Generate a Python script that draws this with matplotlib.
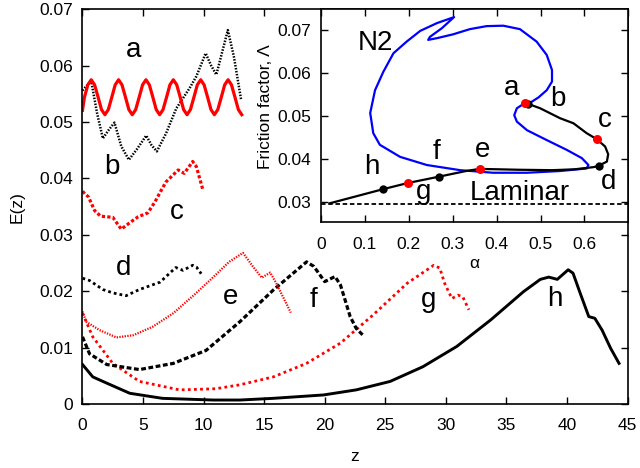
import matplotlib.pyplot as plt

plt.rcParams['font.family'] = ['Liberation Sans', 'DejaVu Sans']

# ---- main panel: E(z) for the states a..h ----
z_a = [0.00, 0.16, 0.44, 0.72, 1.00, 1.29, 1.57, 1.85, 2.13, 2.42, 2.70, 2.98,
       3.26, 3.55, 3.83, 4.11, 4.39, 4.68, 4.96, 5.24, 5.52, 5.81, 6.09, 6.37,
       6.65, 6.94, 7.22, 7.50, 7.78, 8.07, 8.35, 8.63, 8.91, 9.20, 9.48, 9.76,
       10.04, 10.33, 10.61, 10.89, 11.17, 11.46, 11.74, 12.02, 12.30, 12.59,
       12.87, 13.15]
E_a = [0.0521, 0.0544, 0.0566, 0.0575,
       0.0566, 0.0544, 0.0522, 0.0513, 0.0522, 0.0544, 0.0566, 0.0575,
       0.0566, 0.0544, 0.0522, 0.0513, 0.0522, 0.0544, 0.0566, 0.0575,
       0.0566, 0.0544, 0.0522, 0.0513, 0.0522, 0.0544, 0.0566, 0.0575,
       0.0566, 0.0544, 0.0522, 0.0513, 0.0522, 0.0544, 0.0566, 0.0575,
       0.0566, 0.0544, 0.0522, 0.0513, 0.0522, 0.0544, 0.0566, 0.0575,
       0.0566, 0.0544, 0.0522, 0.0513]

z_b = [0.0, 0.72, 1.2, 1.68, 2.2, 2.64, 3.2, 3.83, 4.5, 5.26, 5.7, 6.14, 6.9,
       7.74, 8.84, 9.4, 10.17, 10.6, 11.05, 12.0, 12.5, 13.1]
E_b = [0.0556, 0.0573, 0.0516, 0.0471, 0.0487, 0.0499, 0.0457, 0.0433, 0.0452,
       0.0476, 0.0459, 0.0448, 0.0480, 0.0524, 0.0560, 0.0581, 0.0622, 0.0601,
       0.0584, 0.0663, 0.0616, 0.0539]

z_c = [0.0, 0.5, 1.0, 1.5, 2.5, 3.2, 4.0, 4.6, 5.4, 6.0, 6.5, 6.9, 7.9, 8.4,
       9.1, 9.4, 9.95]
E_c = [0.0377, 0.0367, 0.0343, 0.0333, 0.0331, 0.0310, 0.0323, 0.0332, 0.0339,
       0.0359, 0.0379, 0.0394, 0.0415, 0.0409, 0.0430, 0.0421, 0.0379]

z_d = [0.0, 0.58, 1.68, 2.5, 3.6, 4.7, 6.4, 7.7, 8.3, 9.1, 9.4, 9.8]
E_d = [0.0223, 0.0219, 0.0203, 0.0197, 0.0192, 0.0203, 0.0216, 0.0242, 0.0237,
       0.0246, 0.0243, 0.0231]

z_e = [0.0, 0.3, 1.4, 2.8, 4.2, 5.8, 7.5, 9.4, 10.8, 12.1, 13.25, 14.1, 14.8,
       15.5, 16.0, 17.2]
E_e = [0.0164, 0.0146, 0.0131, 0.0118, 0.0122, 0.0137, 0.0161, 0.0197, 0.0225,
       0.0252, 0.0268, 0.0243, 0.0224, 0.0233, 0.0214, 0.0162]

z_f = [0.0, 0.58, 2.0, 4.7, 7.5, 10.2, 13.0, 15.75, 18.5, 19.1, 20.0, 20.85,
       21.3, 22.1, 22.6, 23.2]
E_f = [0.0119, 0.0089, 0.0070, 0.0061, 0.0072, 0.0095, 0.0146, 0.0202, 0.0252,
       0.0244, 0.0217, 0.0226, 0.0211, 0.0155, 0.0134, 0.0121]

z_g = [0.0, 0.85, 2.5, 4.7, 8.0, 11.0, 13.0, 15.75, 18.5, 21.3, 24.0, 26.8,
       29.0, 29.5, 29.9, 30.5, 31.0, 31.4, 31.9]
E_g = [0.0161, 0.0119, 0.0072, 0.0040, 0.0025, 0.0027, 0.0034, 0.0048, 0.0072,
       0.0108, 0.0158, 0.0214, 0.0246, 0.0241, 0.0214, 0.0187, 0.0193, 0.0190,
       0.0167]

z_h = [0.0, 0.85, 2.0, 3.9, 6.6, 10.8, 13.0, 15.75, 19.9, 22.6, 25.4, 28.1,
       30.9, 33.7, 36.4, 37.8, 38.5, 39.2, 40.1, 40.5, 41.1, 41.8, 42.3, 42.9,
       43.6, 44.3]
E_h = [0.0070, 0.0048, 0.0037, 0.0019, 0.0010, 0.0007, 0.0007, 0.0010, 0.0016,
       0.0025, 0.0040, 0.0066, 0.0102, 0.0149, 0.0199, 0.0221, 0.0225, 0.0221,
       0.0238, 0.0232, 0.0196, 0.0155, 0.0152, 0.0131, 0.0099, 0.0072]

main_labels = ['a', 'b', 'c', 'd', 'e', 'f', 'g', 'h']
main_label_z = [4.2, 2.4, 7.8, 3.4, 12.2, 19.1, 28.6, 39.0]
main_label_E = [0.0628, 0.0421, 0.0341, 0.0241, 0.0190, 0.0184, 0.0184, 0.0187]

z_ticks = [0, 5, 10, 15, 20, 25, 30, 35, 40, 45]
E_ticks = [0, 0.01, 0.02, 0.03, 0.04, 0.05, 0.06, 0.07]
E_tick_labels = ['0', '0.01', '0.02', '0.03', '0.04', '0.05', '0.06', '0.07']

# ---- inset: friction factor vs alpha ----
alpha_n2 = [0.472, 0.495, 0.514, 0.526, 0.526, 0.514, 0.491, 0.453, 0.415,
            0.377, 0.339, 0.301, 0.264, 0.244, 0.248, 0.275, 0.303, 0.264,
            0.226, 0.195, 0.165, 0.142, 0.123, 0.112, 0.119, 0.134, 0.180,
            0.241, 0.317, 0.392, 0.469, 0.544, 0.605, 0.609, 0.594, 0.560,
            0.514, 0.469, 0.446, 0.440, 0.446, 0.458]
lam_n2 = [0.0528, 0.0543, 0.0560, 0.0580, 0.0607, 0.0642, 0.0673, 0.0702,
          0.0710, 0.0709, 0.0702, 0.0690, 0.0681, 0.0677, 0.0684, 0.0704,
          0.0730, 0.0716, 0.0698, 0.0673, 0.0646, 0.0603, 0.0560, 0.0507,
          0.0460, 0.0433, 0.0405, 0.0386, 0.0374, 0.0368, 0.0368, 0.0372,
          0.0378, 0.0386, 0.0402, 0.0421, 0.0444, 0.0467, 0.0487, 0.0502,
          0.0518, 0.0526]

alpha_branch = [0.020, 0.142, 0.197, 0.269, 0.330, 0.361, 0.450, 0.527, 0.577,
                0.620, 0.632, 0.651, 0.654, 0.647, 0.628, 0.605, 0.575, 0.544,
                0.499, 0.472]
lam_branch = [0.0297, 0.0330, 0.0344, 0.0359, 0.0372, 0.0377, 0.0375, 0.0374,
              0.0376, 0.0381, 0.0384, 0.0394, 0.0411, 0.0429, 0.0446, 0.0460,
              0.0483, 0.0495, 0.0518, 0.0528]

laminar_alpha = [0.0, 0.7]
laminar_lam = [0.0295, 0.0295]

red_alpha = [0.465, 0.628, 0.361, 0.197]
red_lam = [0.0531, 0.0446, 0.0377, 0.0344]
black_alpha = [0.472, 0.632, 0.269, 0.142]
black_lam = [0.0528, 0.0384, 0.0359, 0.0330]

inset_labels = ['a', 'b', 'c', 'd', 'e', 'f', 'g', 'h', 'Laminar', 'N2']
inset_label_alpha = [0.434, 0.539, 0.647, 0.654, 0.368, 0.264, 0.233, 0.115, 0.453, 0.123]
inset_label_lam = [0.0564, 0.0539, 0.0491, 0.0347, 0.0421, 0.0417, 0.0324, 0.0382, 0.0320, 0.0669]

alpha_ticks = [0, 0.1, 0.2, 0.3, 0.4, 0.5, 0.6]
alpha_tick_labels = ['0', '0.1', '0.2', '0.3', '0.4', '0.5', '0.6']
lam_ticks = [0.03, 0.04, 0.05, 0.06, 0.07]
lam_tick_labels = ['0.03', '0.04', '0.05', '0.06', '0.07']

fig = plt.figure(figsize=(6.4, 4.68), dpi=100)
ax = fig.add_axes([0.1289, 0.1368, 0.8516, 0.8434])

ax.plot(z_h, E_h, color='black', lw=2.1, solid_joinstyle='round')
ax.plot(z_g, E_g, color='red', lw=2.0, linestyle=(0, (1, 1.2)))
ax.plot(z_f, E_f, color='black', lw=2.3, linestyle=(0, (1.5, 0.8)))
ax.plot(z_e, E_e, color='red', lw=1.6, linestyle=(0, (0.6, 0.6)))
ax.plot(z_d, E_d, color='black', lw=2.0, linestyle=(0, (1, 1.1)))
ax.plot(z_c, E_c, color='red', lw=2.3, linestyle=(0, (1, 0.7)))
ax.plot(z_b, E_b, color='black', lw=1.8, linestyle=(0, (0.6, 0.6)))
ax.plot(z_a, E_a, color='red', lw=2.3, solid_joinstyle='round')

for lab, x, y in zip(main_labels, main_label_z, main_label_E):
    ax.text(x, y, lab, fontsize=20, ha='center', va='center')

ax.set_xlim(0, 45)
ax.set_ylim(0, 0.07)
ax.set_xticks(z_ticks)
ax.set_yticks(E_ticks)
ax.set_yticklabels(E_tick_labels)
ax.tick_params(direction='in', top=True, right=True, length=5, width=1,
               labelsize=12.5)
ax.tick_params(axis='x', pad=10)
ax.tick_params(axis='y', pad=7)
for s in ax.spines.values():
    s.set_linewidth(1.2)
ax.set_xlabel('z', fontsize=12.5)
ax.set_ylabel('E(z)', fontsize=12.5)
ax.xaxis.set_label_coords(0.5, -0.115)
ax.yaxis.set_label_coords(-0.106, 0.5)

# inset
ins = fig.add_axes([0.5016, 0.5263, 0.4789, 0.4538], zorder=3)
ins.set_facecolor('white')
ins.plot(laminar_alpha, laminar_lam, color='black', lw=1.3, linestyle=(0, (2.5, 1.5)))
ins.plot(alpha_n2, lam_n2, color='blue', lw=1.6, solid_joinstyle='round')
ins.plot(alpha_branch, lam_branch, color='black', lw=1.6, solid_joinstyle='round')
ins.plot(black_alpha, black_lam, 'o', color='black', ms=6, mew=0)
ins.plot(red_alpha, red_lam, 'o', color='red', ms=6.5, mew=0)
for lab, x, y in zip(inset_labels, inset_label_alpha, inset_label_lam):
    ins.text(x, y, lab, fontsize=20, ha='center', va='center')

ins.set_xlim(0, 0.698)
ins.set_ylim(0.02542, 0.07481)
ins.set_xticks(alpha_ticks)
ins.set_xticklabels(alpha_tick_labels)
ins.set_yticks(lam_ticks)
ins.set_yticklabels(lam_tick_labels)
ins.tick_params(direction='in', top=True, right=True, length=5, width=1,
                labelsize=12.5)
ins.tick_params(axis='x', pad=11)
ins.tick_params(axis='y', pad=7)
for s in ins.spines.values():
    s.set_linewidth(1.2)
ins.set_xlabel('α', fontsize=12.5)
ins.set_ylabel('Friction factor, Λ', fontsize=12.5)
ins.xaxis.set_label_coords(0.5, -0.16)
ins.yaxis.set_label_coords(-0.157, 0.54)

fig.savefig('out.png', dpi=100)
